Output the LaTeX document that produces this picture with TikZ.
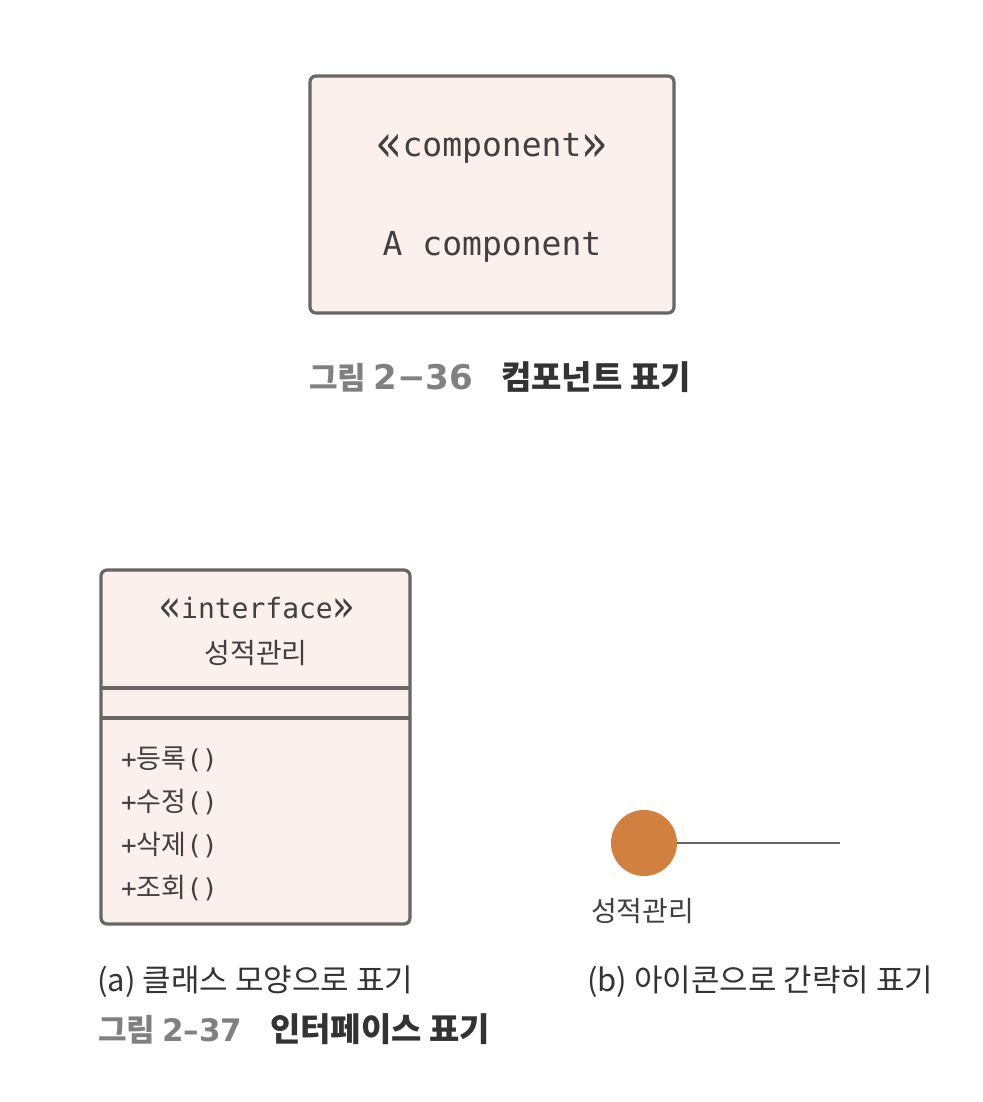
\documentclass[tikz,border=0pt]{standalone}
\usepackage{fontspec}
\setmainfont{Noto Sans CJK KR}
\newfontfamily\kr{Noto Sans CJK KR}
\newfontfamily\mono{DejaVu Sans Mono}
\newfontfamily\numfont{DejaVu Sans}
\definecolor{boxfill}{HTML}{FBF0EB}
\definecolor{boxline}{HTML}{666666}
\definecolor{icon}{HTML}{D2803F}
\definecolor{capgray}{HTML}{808080}
\definecolor{capdark}{HTML}{333333}
\definecolor{txt}{HTML}{404040}
\newcommand{\mparen}{{\mono\fontsize{26}{30}\selectfont()}}
\newcommand{\mplus}{{\mono\fontsize{26}{30}\selectfont+}}
\newcommand{\lguil}{\raisebox{-0.13em}{\scalebox{1.3}[1.6]{«}}}
\newcommand{\rguil}{\raisebox{-0.13em}{\scalebox{1.3}[1.6]{»}}}
\tikzset{
  umlbox/.style={draw=boxline, fill=boxfill, line width=3.2pt, rounded corners=6pt, inner sep=0pt},
  divider/.style={draw=boxline, line width=3.2pt},
  monotxt/.style={font=\mono\fontsize{33}{36}\selectfont, text=txt, anchor=base, inner sep=0pt},
  smono/.style={font=\mono\fontsize{28}{32}\selectfont, text=txt, anchor=base, inner sep=0pt},
  krtxt/.style={font=\kr\fontsize{27}{30}\selectfont, text=txt, anchor=base west, inner sep=0pt},
  captxt/.style={font=\kr\fontsize{31}{34}\selectfont, text=capdark, anchor=base west, inner sep=0pt},
  capnum/.style={font=\kr\bfseries\fontsize{31}{36}\selectfont, text=capgray, anchor=base west, inner sep=0pt},
  captitle/.style={font=\kr\bfseries\fontsize{33}{36}\selectfont, text=capdark, anchor=base west, inner sep=0pt},
}
\newcommand{\fignum}[2][34]{{\numfont\bfseries\fontsize{#1}{36}\selectfont #2}}
\begin{document}
\begin{tikzpicture}[x=1pt,y=1pt]
\path[use as bounding box, fill=white] (0,0) rectangle (982,-1102);
% component
\node[umlbox, minimum width=364pt, minimum height=237pt] (comp) at (492,-194.5) {};
\node[monotxt] (stereo) at (492,-157) {\lguil component\rguil};
\node[monotxt] (cname) at (492,-255) {A component};
\node[capnum] (cap36n) at (309,-389) {그림 \fignum{2−36}};
\node[captitle] (cap36t) at (501,-389) {컴포넌트 표기};
% interface class box
\node[umlbox, minimum width=309pt, minimum height=354pt] (iface) at (255.5,-747) {};
\coordinate (d1l) at (101,-688);
\coordinate (d1r) at (410,-688);
\coordinate (d2l) at (101,-718);
\coordinate (d2r) at (410,-718);
\draw[divider] (d1l) -- (d1r);
\draw[divider] (d2l) -- (d2r);
\node[smono] (istereo) at (257,-618) {\lguil interface\rguil};
\node[font=\kr\fontsize{28}{30}\selectfont, text=txt, anchor=base, inner sep=0pt] (iname) at (256,-663) {성적관리};
\node[krtxt] (m1) at (121,-768) {\mplus 등록\mparen};
\node[krtxt] (m2) at (121,-811) {\mplus 수정\mparen};
\node[krtxt] (m3) at (121,-854) {\mplus 삭제\mparen};
\node[krtxt] (m4) at (121,-897) {\mplus 조회\mparen};
% icon
\node[circle, fill=icon, minimum size=66pt, inner sep=0pt] (lollipop) at (644,-843) {};
\coordinate (lineend) at (840,-843);
\draw[boxline, line width=2pt] (lollipop.east) -- (lineend);
\node[font=\kr\fontsize{28}{30}\selectfont, text=txt, anchor=base west, inner sep=0pt] (iconname) at (591,-921) {성적관리};
% captions
\node[captxt] (capa) at (97,-991) {(a) 클래스 모양으로 표기};
\node[captxt] (capb) at (587,-991) {(b) 아이콘으로 간략히 표기};
\node[capnum] (cap37n) at (98,-1041) {그림 \fignum[31]{2–37}};
\node[captitle] (cap37t) at (270,-1041) {인터페이스 표기};
\end{tikzpicture}
\end{document}
